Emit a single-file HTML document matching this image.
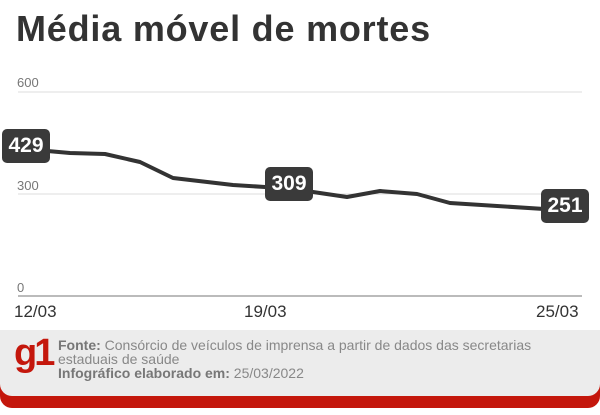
<!DOCTYPE html>
<html><head><meta charset="utf-8"><style>
body{margin:0;width:600px;height:415px;background:#fff;font-family:"Liberation Sans",sans-serif;overflow:hidden;position:relative}
.t{position:absolute;left:16px;top:8px;font-size:36px;font-weight:bold;color:#333;letter-spacing:0.8px}
.ax{position:absolute;font-size:13px;color:#777}
.xl{position:absolute;top:302px;font-size:17px;color:#333}
.box{position:absolute;background:#3a3a3a;color:#fff;font-weight:bold;font-size:21px;border-radius:5px;text-align:center;line-height:34px;height:34px;width:48px}
.foot{position:absolute;left:0;top:330px;width:600px;height:78px;border-radius:0 0 12px 12px;background:#c4170c}
.fin{position:absolute;left:0;top:0;width:600px;height:66px;background:#ececec;border-radius:0 0 12px 12px}
</style></head><body>
<div class="t">Média móvel de mortes</div>
<svg width="600" height="415" style="position:absolute;left:0;top:0">
<line x1="18" y1="92" x2="582" y2="92" stroke="#ddd" stroke-width="1"/>
<line x1="18" y1="194" x2="582" y2="194" stroke="#ddd" stroke-width="1"/>
<line x1="18" y1="296" x2="582" y2="296" stroke="#777" stroke-width="1"/>
<polyline fill="none" stroke="#333" stroke-width="4" stroke-linejoin="round" points="25,149 70,153 105,154 140,162 173,178 233,185 265,187 313,192 347,197 380,191 417,194 450,203 560,210"/>
</svg>
<div class="ax" style="left:17px;top:75px">600</div>
<div class="ax" style="left:17px;top:178px">300</div>
<div class="ax" style="left:17px;top:280px">0</div>
<div class="xl" style="left:14px">12/03</div>
<div class="xl" style="left:244px">19/03</div>
<div class="xl" style="left:536px">25/03</div>
<div class="box" style="left:2px;top:129px">429</div>
<div class="box" style="left:265px;top:167px">309</div>
<div class="box" style="left:541px;top:189px">251</div>
<div class="foot"><div class="fin">
<div style="position:absolute;left:14px;top:2px;font-size:38px;font-weight:bold;color:#c4170c;letter-spacing:-3px">g1</div>
<div style="position:absolute;left:58px;top:8px;font-size:14px;color:#888;line-height:14px;width:490px"><b style="color:#777">Fonte:</b> Consórcio de veículos de imprensa a partir de dados das secretarias estaduais de saúde<br><b style="color:#777">Infográfico elaborado em:</b> 25/03/2022</div>
</div></div>
</body></html>
